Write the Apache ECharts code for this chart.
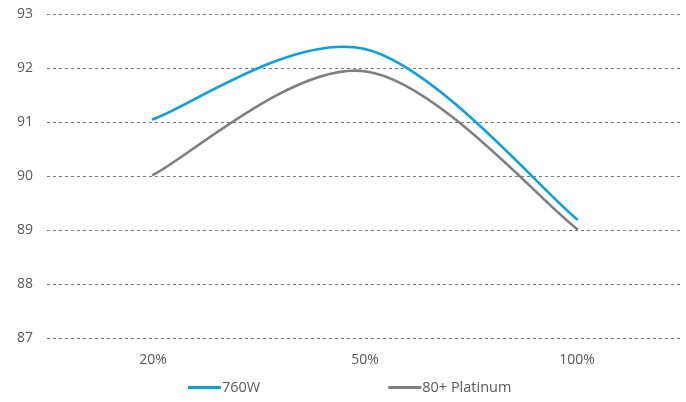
<!DOCTYPE html>
<html><head><meta charset="utf-8">
<script src="https://cdn.jsdelivr.net/npm/echarts@6/dist/echarts.min.js"></script>
<style>html,body{margin:0;padding:0;background:#fff}#c{width:686px;height:402px}</style>
</head><body><div id="c"></div>
<script>
const categories = ['20%', '50%', '100%'];
const series760W = [91.05, 92.35, 89.2];
const seriesPlatinum = [90.02, 91.94, 89.02];
const yTicks = {min: 87, max: 93, interval: 1};

// Excel-style (Catmull-Rom) smoothed segment between point i and i+1
function smoothSeries(name, values, color) {
  return {
    name: name, type: 'custom', data: values.map((v, i) => [i, v]),
    itemStyle: {color: color},
    renderItem: function (params, api) {
      const i = params.dataIndex;
      if (i >= values.length - 1) return null;
      const p = k => api.coord([Math.max(0, Math.min(values.length - 1, k)), values[Math.max(0, Math.min(values.length - 1, k))]]);
      const p0 = p(i - 1), p1 = p(i), p2 = p(i + 1), p3 = p(i + 2);
      return {
        type: 'bezierCurve',
        shape: {
          x1: p1[0], y1: p1[1], x2: p2[0], y2: p2[1],
          cpx1: p1[0] + (p2[0] - p0[0]) / 6, cpy1: p1[1] + (p2[1] - p0[1]) / 6,
          cpx2: p2[0] - (p3[0] - p1[0]) / 6, cpy2: p2[1] - (p3[1] - p1[1]) / 6
        },
        style: {stroke: color, lineWidth: 2.6, fill: null, lineCap: 'round'}
      };
    }
  };
}

const chart = echarts.init(document.getElementById('c'));
chart.setOption({
  animation: false,
  textStyle: {fontFamily: '"Open Sans", Lato, sans-serif'},
  grid: {left: 47, right: 3, top: 14, bottom: 64},
  legend: {
    bottom: 2, left: 183,
    icon: 'rect', itemWidth: 33, itemHeight: 3, itemGap: 128,
    textStyle: {color: '#595959', fontSize: 14.5, padding: [0,0,0,-4]},
    data: ['760W', '80+ Platinum']
  },
  xAxis: {
    type: 'category', data: categories, boundaryGap: true,
    axisLine: {show: false}, axisTick: {show: false},
    axisLabel: {color: '#595959', fontSize: 14, margin: 15}
  },
  yAxis: {
    type: 'value', min: yTicks.min, max: yTicks.max, interval: yTicks.interval,
    axisLine: {show: false}, axisTick: {show: false},
    axisLabel: {color: '#595959', fontSize: 14, margin: 14},
    splitLine: {lineStyle: {color: '#7a7a7a', type: [3, 3], width: 1}}
  },
  series: [
    smoothSeries('760W', series760W, '#0b9fdf'),
    smoothSeries('80+ Platinum', seriesPlatinum, '#7f7f7f')
  ]
});
</script></body></html>
